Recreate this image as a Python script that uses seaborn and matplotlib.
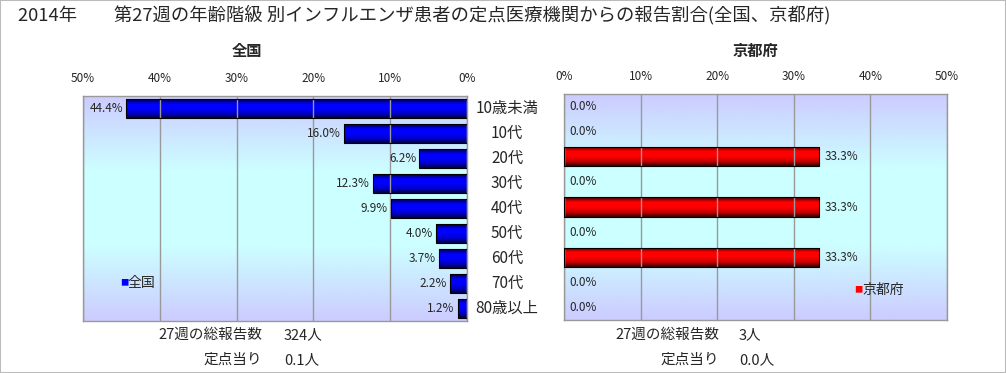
import numpy as np
import pandas as pd
import matplotlib
matplotlib.use('Agg')
import matplotlib.pyplot as plt
from matplotlib.colors import LinearSegmentedColormap
from matplotlib.patches import Rectangle
import seaborn as sns

# data
ages = ['10歳未満', '10代', '20代', '30代', '40代', '50代', '60代', '70代', '80歳以上']
national = [44.4, 16.0, 6.2, 12.3, 9.9, 4.0, 3.7, 2.2, 1.2]
kyoto = [0.0, 0.0, 33.3, 0.0, 33.3, 0.0, 33.3, 0.0, 0.0]
ticks = [0, 10, 20, 30, 40, 50]
tick_labels = ['0%', '10%', '20%', '30%', '40%', '50%']

title = '2014年　　第27週の年齢階級 別インフルエンザ患者の定点医療機関からの報告割合(全国、京都府)'
nat_total, nat_per = '324人', '0.1人'
kyo_total, kyo_per = '3人', '0.0人'

df = pd.DataFrame({'age': ages, 'national': national, 'kyoto': kyoto})

sns.set_style('white')
plt.rcParams['font.family'] = ['Noto Sans CJK JP', 'DejaVu Sans']

fig = plt.figure(figsize=(10.06, 3.73), dpi=100)
W, H = 1006, 373

def px_axes(x0, y0, x1, y1):
    return fig.add_axes([x0 / W, 1 - y1 / H, (x1 - x0) / W, (y1 - y0) / H])

ax_l = px_axes(83, 96, 467, 321)
ax_r = px_axes(564, 94, 947, 320)

bg = LinearSegmentedColormap.from_list('bg', ['#ccccff', '#ccffff', '#ccffff', '#ccccff'])
blue = LinearSegmentedColormap.from_list('bl', ['#000044', '#0000ff', '#0000ff', '#0000cc', '#000044'])
red = LinearSegmentedColormap.from_list('rd', ['#330000', '#ff0000', '#ff0000', '#cc0000', '#330000'])

def style(ax, col, cmap, inverted):
    sns.barplot(data=df, x=col, y='age', orient='h', ax=ax, width=0.76,
                color='#0000ff', edgecolor='black', linewidth=0.8, zorder=3)
    ax.set_xlim((50, 0) if inverted else (0, 50))
    ax.set_ylim(8.5, -0.5)
    grad = np.linspace(0, 1, 100).reshape(-1, 1)
    ax.imshow(grad, cmap=bg, aspect='auto', extent=[ax.get_xlim()[0], ax.get_xlim()[1], 8.5, -0.5],
              zorder=0)
    for p in ax.patches:
        p.set_facecolor('none')
        x, y = p.get_x(), p.get_y()
        w, h = p.get_width(), p.get_height()
        if w <= 0:
            p.set_linewidth(0)
            continue
        im = ax.imshow(grad, cmap=cmap, aspect='auto', extent=[x, x + w, y + h, y], zorder=2)
        im.set_clip_path(p)
    ax.set_xticks(ticks)
    ax.set_xticklabels(tick_labels)
    ax.xaxis.tick_top()
    ax.tick_params(axis='x', length=0, labelsize=8.5, pad=8)
    ax.set_yticks([])
    ax.set_xlabel('')
    ax.set_ylabel('')
    ax.grid(axis='x', color='#999999', linewidth=1, zorder=1)
    ax.set_axisbelow(False)
    for s in ax.spines.values():
        s.set_color('#999999')
        s.set_linewidth(1)

style(ax_l, 'national', blue, True)
style(ax_r, 'kyoto', red, False)

for i, v in enumerate(national):
    ax_l.text(v + 0.4, i, f'{v:.1f}%', ha='right', va='center', fontsize=8.5, zorder=5)
for i, v in enumerate(kyoto):
    ax_r.text(v + 0.7, i, f'{v:.1f}%', ha='left', va='center', fontsize=8.5, zorder=5)

# category labels between the panels
for i, a in enumerate(ages):
    y = ax_l.transData.transform((0, i))[1]
    fig.text(507 / W, y / H, a, ha='center', va='center', fontsize=11)

# legends
fig.text(120 / W, 1 - 283 / H, '■', color='#0000ff', fontsize=6, va='center', ha='left')
fig.text(128 / W, 1 - 283 / H, '全国', fontsize=10, va='center', ha='left')
fig.text(854 / W, 1 - 290 / H, '■', color='#ff0000', fontsize=6, va='center', ha='left')
fig.text(862 / W, 1 - 290 / H, '京都府', fontsize=10, va='center', ha='left')

fig.text(18 / W, 1 - 15 / H, title, fontsize=13.2, va='center', ha='left')
fig.text(247 / W, 1 - 51 / H, '全国', fontsize=11, fontweight='bold', ha='center', va='center')
fig.text(755 / W, 1 - 51 / H, '京都府', fontsize=11, fontweight='bold', ha='center', va='center')

# footer
fs = 10.5
fig.text(262 / W, 1 - 335 / H, '27週の総報告数', fontsize=fs, ha='right', va='center')
fig.text(284 / W, 1 - 335 / H, nat_total, fontsize=fs, ha='left', va='center')
fig.text(262 / W, 1 - 360 / H, '定点当り', fontsize=fs, ha='right', va='center')
fig.text(284 / W, 1 - 360 / H, nat_per, fontsize=fs, ha='left', va='center')
fig.text(719 / W, 1 - 335 / H, '27週の総報告数', fontsize=fs, ha='right', va='center')
fig.text(739 / W, 1 - 335 / H, kyo_total, fontsize=fs, ha='left', va='center')
fig.text(719 / W, 1 - 360 / H, '定点当り', fontsize=fs, ha='right', va='center')
fig.text(739 / W, 1 - 360 / H, kyo_per, fontsize=fs, ha='left', va='center')

fig.patches.append(Rectangle((0, 0), 1, 1, transform=fig.transFigure, fill=False,
                             edgecolor='#bbbbbb', linewidth=1.5))

fig.savefig('out.png', dpi=100)
